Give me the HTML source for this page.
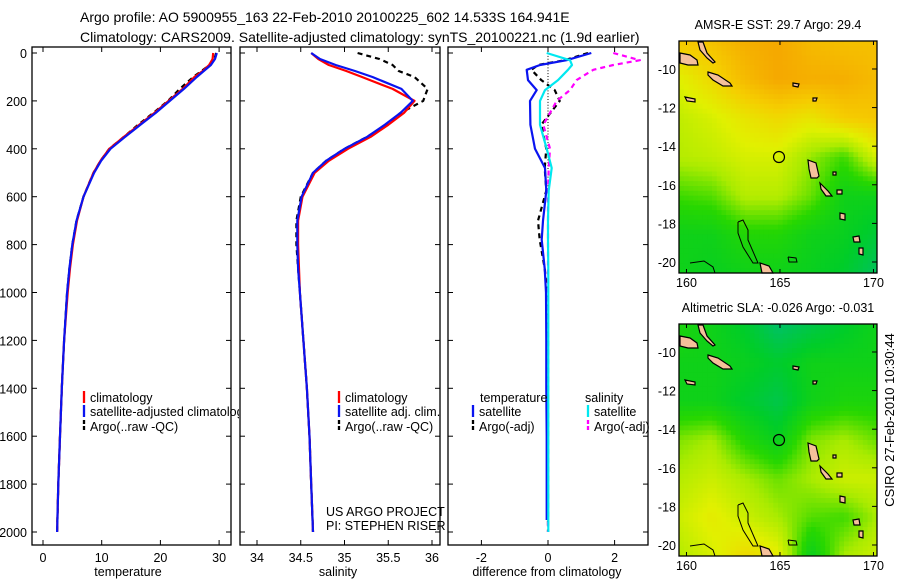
<!DOCTYPE html>
<html><head><meta charset="utf-8"><style>
html,body{margin:0;padding:0;background:#fff;}
body{width:900px;height:580px;overflow:hidden;font-family:"Liberation Sans",sans-serif;}
svg text{font-family:"Liberation Sans",sans-serif;fill:#000;}
</style></head><body>
<svg id="chart" width="900" height="580" viewBox="0 0 900 580" xmlns="http://www.w3.org/2000/svg">
<text x="80" y="22" font-size="14">Argo profile: AO 5900955_163 22-Feb-2010 20100225_602 14.533S 164.941E</text>
<text x="80" y="42" font-size="14">Climatology: CARS2009. Satellite-adjusted climatology: synTS_20100221.nc (1.9d earlier)</text>
<defs>
<clipPath id="c1"><rect x="32" y="47" width="199" height="498"/></clipPath>
<clipPath id="c2"><rect x="240" y="47" width="200" height="498"/></clipPath>
<clipPath id="c3"><rect x="448" y="47" width="200" height="498"/></clipPath>
<clipPath id="cl1"><rect x="32" y="380" width="207" height="60"/></clipPath>
</defs>
<g id="g"></g>
<text transform="translate(894,420) rotate(-90)" text-anchor="middle" font-size="13">CSIRO 27-Feb-2010 10:30:44</text>
</svg>
<script>
// ---- profile data ----
const depths = [0,25,50,75,100,150,200,250,300,350,400,450,500,600,700,800,900,1000,1200,1400,1600,1800,2000];
const tempClim = [29.0,28.9,28.3,27.2,25.8,23.8,21.4,19.0,16.4,13.8,11.3,9.8,8.6,6.9,5.8,5.1,4.6,4.2,3.6,3.2,2.9,2.6,2.4];
const tempSat  = [29.6,29.3,28.6,27.4,26.2,24.0,21.6,19.2,16.6,14.0,11.5,9.9,8.7,6.9,5.7,5.0,4.5,4.1,3.6,3.2,2.9,2.6,2.4];
const tempArgo = [29.5,29.2,28.4,27.0,25.6,23.3,21.3,18.8,16.2,13.8,11.3,9.8,8.6,6.9,5.7,5.0,4.5,4.1,3.6,3.2,2.9,2.6,2.4];
const salClim = [34.62,34.70,34.82,35.02,35.20,35.55,35.80,35.68,35.50,35.30,35.04,34.82,34.66,34.52,34.47,34.47,34.48,34.49,34.53,34.57,34.60,34.62,34.64];
const salSat  = [34.62,34.72,34.90,35.12,35.32,35.65,35.78,35.64,35.46,35.26,35.00,34.79,34.64,34.51,34.46,34.46,34.47,34.49,34.53,34.57,34.60,34.62,34.64];
const salArgo = [35.15,35.40,35.55,35.62,35.80,35.95,35.90,35.64,35.48,35.26,35.00,34.79,34.64,34.50,34.45,34.45,34.47,34.49,34.53,34.57,34.60,34.62,34.64];
const dDepths = [0,30,50,70,113,155,200,300,400,480,575,700,780,900,1000,1200,1400,1600,1800,1950,2000];
const dTempSat  = [1.3,0.56,-0.24,-0.64,-0.6,-0.34,-0.54,-0.53,-0.39,-0.09,-0.05,-0.15,-0.19,-0.1,-0.06,-0.05,-0.05,-0.04,-0.04,-0.04,null];
const dSalSat   = [-0.04,0.66,0.72,0.6,0.3,-0.09,-0.24,-0.24,-0.04,0.11,0.02,0.0,0.0,0.01,0.01,0.01,0.01,0.01,0.01,0.01,0.01];
const dTempArgo = [1.2,0.5,-0.3,-0.5,-0.2,0.2,0.35,-0.2,-0.05,-0.1,-0.05,-0.3,-0.25,-0.1,-0.02,0.0,0.0,0.0,0.0,0.0,0.0];
const dSalArgo  = [1.96,2.76,1.96,1.36,0.86,0.66,0.26,-0.14,0.06,0.02,0.0,0.0,0.0,0.0,0.0,0.0,0.0,0.0,0.0,0.0,0.0];
const depthTicks = [0,200,400,600,800,1000,1200,1400,1600,1800,2000];
const tempTicks = [0,10,20,30];
const salTicks = [34,34.5,35,35.5,36];
const salTickLabels = ["34","34.5","35","35.5","36"];
const diffTicks = [-2,0,2];
const latTicks = [-10,-12,-14,-16,-18,-20];
const lonTicks = [160,165,170];
// map coarse fields (rows north->south, cols west->east), colormap index 0..1
const sstField = [
 [0.74,0.76,0.82,0.84,0.78,0.76,0.76],
 [0.60,0.68,0.78,0.84,0.82,0.82,0.78],
 [0.54,0.58,0.64,0.68,0.64,0.72,0.74],
 [0.52,0.54,0.58,0.58,0.48,0.40,0.58],
 [0.40,0.42,0.52,0.52,0.44,0.30,0.30],
 [0.30,0.30,0.36,0.36,0.30,0.28,0.22],
 [0.30,0.28,0.30,0.30,0.28,0.24,0.14]];
const slaField = [
 [0.34,0.30,0.24,0.12,0.18,0.24,0.30],
 [0.30,0.30,0.28,0.24,0.30,0.30,0.30],
 [0.30,0.30,0.24,0.18,0.30,0.34,0.34],
 [0.46,0.50,0.36,0.28,0.46,0.50,0.44],
 [0.52,0.56,0.50,0.44,0.50,0.56,0.56],
 [0.56,0.62,0.56,0.50,0.42,0.40,0.50],
 [0.52,0.58,0.68,0.62,0.28,0.50,0.56]];

const NS="http://www.w3.org/2000/svg";
const G=document.getElementById('g');
function el(t,a,p){const e=document.createElementNS(NS,t);for(const k in a)e.setAttribute(k,a[k]);(p||G).appendChild(e);return e;}
const yD=d=>53+d*0.2395;
const xT=v=>43+v*5.87;
const xS=v=>257+(v-34)*87.5;
const xDf=v=>548+v*33.3;

function frame(x0,x1,name){
  const r=el('rect',{x:x0,y:47,width:x1-x0,height:498,fill:'none',stroke:'#000','stroke-width':1.3});
  
  
  depthTicks.forEach(d=>{el('line',{x1:x0,x2:x0+5,y1:yD(d),y2:yD(d),stroke:'#000'});el('line',{x1:x1-5,x2:x1,y1:yD(d),y2:yD(d),stroke:'#000'});});
}
function xticks(ticks,labels,fx,name){
  ticks.forEach((t,i)=>{const x=fx(t);el('line',{x1:x,x2:x,y1:47,y2:52,stroke:'#000'});el('line',{x1:x,x2:x,y1:540,y2:545,stroke:'#000'});
    const tx=el('text',{x:x,y:562,'font-size':12.5,'text-anchor':'middle'});tx.textContent=labels[i];
    
    });
}
function line(xs,ds,fx,color,clip,name,dash){
  let pts=[];xs.forEach((v,i)=>{if(v!==null)pts.push(fx(v).toFixed(1)+','+yD(ds[i]).toFixed(1));});
  const a={points:pts.join(' '),fill:'none',stroke:color,'stroke-width':2.2,'clip-path':'url(#'+clip+')','stroke-linejoin':'round'};
  if(dash)a['stroke-dasharray']=dash;
  const p=el('polyline',a);
  
  
}
function label(x,y,t,name,size,anchor){const e=el('text',{x:x,y:y,'font-size':size||12.5,'text-anchor':anchor||'start'});e.textContent=t;
  
  return e;}
function legItem(x,y,color,t,name,clip,dash){
  const l=el('line',{x1:x,x2:x,y1:y-11,y2:y+1,stroke:color,'stroke-width':2.3});
  if(dash)l.setAttribute('stroke-dasharray','4,2');
  const e=label(x+6,y,t,name);if(clip)e.setAttribute('clip-path','url(#'+clip+')');
}

// panel 1
frame(32,231,'temperature-panel');
depthTicks.forEach(d=>label(27,yD(d)+5,String(d),'depth-tick-label',12.5,'end'));
xticks(tempTicks,tempTicks.map(String),xT,'temperature');
line(tempArgo,depths,xT,'#000','c1','temperature-argo-line','5,4');
line(tempClim,depths,xT,'#f00','c1','temperature-climatology-line');
line(tempSat,depths,xT,'#0a14f0','c1','temperature-satellite-line');
label(128,576,'temperature','x-axis-title-temperature',12.5,'middle');
legItem(84,402,'#f00','climatology','legend-climatology');
legItem(84,416,'#0a14f0','satellite-adjusted climatology','legend-satellite-adjusted','cl1');
legItem(84,431,'#000','Argo(..raw -QC)','legend-argo','',1);

// panel 2
frame(240,440,'salinity-panel');
xticks(salTicks,salTickLabels,xS,'salinity');
line(salArgo,depths,xS,'#000','c2','salinity-argo-line','5,4');
line(salClim,depths,xS,'#f00','c2','salinity-climatology-line');
line(salSat,depths,xS,'#0a14f0','c2','salinity-satellite-line');
label(338,576,'salinity','x-axis-title-salinity',12.5,'middle');
legItem(339,402,'#f00','climatology','legend-sal-climatology');
legItem(339,416,'#0a14f0','satellite adj. clim.','legend-sal-satellite');
legItem(339,431,'#000','Argo(..raw -QC)','legend-sal-argo','',1);
label(326,516,'US ARGO PROJECT','project-credit',12.5);
label(326,530,'PI: STEPHEN RISER','pi-credit',12.5);

// panel 3
frame(448,648,'difference-panel');
xticks(diffTicks,diffTicks.map(String),xDf,'difference');
for(let d=0;d<=2000;d+=12){el('line',{x1:548,x2:548,y1:yD(d),y2:yD(d)+1,stroke:'#000','stroke-width':1});}
line(dTempArgo,dDepths,xDf,'#000','c3','diff-temperature-argo-line','5,4');
line(dSalArgo,dDepths,xDf,'#ff00ff','c3','diff-salinity-argo-line','5,4');
line(dTempSat,dDepths,xDf,'#0a14f0','c3','diff-temperature-satellite-line');
line(dSalSat,dDepths,xDf,'#00e8f0','c3','diff-salinity-satellite-line');
label(547,576,'difference from climatology','x-axis-title-difference',12.5,'middle');
label(480,402,'temperature','legend-header-temperature');
label(585,402,'salinity','legend-header-salinity');
legItem(473,416,'#0a14f0','satellite','legend-diff-temp-satellite');
legItem(473,431,'#000','Argo(-adj)','legend-diff-temp-argo','',1);
legItem(588,416,'#00e8f0','satellite','legend-diff-sal-satellite');
legItem(588,431,'#ff00ff','Argo(-adj)','legend-diff-sal-argo','',1);

// maps
const cmapStops=[[0,[0,180,160]],[0.25,[0,205,40]],[0.38,[40,215,0]],[0.5,[170,235,0]],[0.6,[225,240,0]],[0.72,[245,205,0]],[0.85,[245,165,0]],[1,[230,110,0]]];
function cmap(v){for(let i=1;i<cmapStops.length;i++){if(v<=cmapStops[i][0]){const a=cmapStops[i-1],b=cmapStops[i];const t=(v-a[0])/(b[0]-a[0]);return 'rgb('+a[1].map((c,k)=>Math.round(c+(b[1][k]-c)*t)).join(',')+')';}}return 'rgb(230,110,0)';}
function sample(F,u,v){const R=F.length-1,C=F[0].length-1;const x=u*C,y=v*R;const i=Math.min(Math.floor(y),R-1),j=Math.min(Math.floor(x),C-1);const fy=y-i,fx=x-j;
 return F[i][j]*(1-fx)*(1-fy)+F[i][j+1]*fx*(1-fy)+F[i+1][j]*(1-fx)*fy+F[i+1][j+1]*fx*fy;}
const islands=[[[1,12],[11,14],[18,19],[19,24],[9,24],[1,22]],[[19,1],[24,1],[28,12],[36,21],[34,22],[28,17],[21,9]],[[29,31],[39,34],[51,42],[53,45],[44,45],[34,39],[29,34]],[[6,56],[16,58],[16,61],[8,60]],[[129,119],[137,122],[140,135],[138,137],[132,137],[130,128]],[[141,142],[149,150],[153,155],[147,155],[142,148]],[[154,131],[157,131],[157,134],[154,134]],[[158,149],[163,149],[163,153],[158,153]],[[161,172],[166,173],[166,179],[161,178]],[[174,196],[180,195],[181,201],[175,201]],[[180,207],[184,207],[184,214],[180,213]],[[81,222],[90,225],[94,232],[83,232]],[[114,42],[120,43],[119,46],[114,45]],[[134,57],[138,57],[137,60],[134,60]]];
const outlines=[[[59,181],[64,179],[69,189],[69,199],[79,222],[74,222],[64,206],[59,192],[59,181]],[[109,216],[117,217],[118,221],[110,221],[109,216]],[[11,222],[25,220],[34,226],[36,232]]];
function drawMap(y0,F,title,name){
 const x0=679,W=198,H=232;
 const g=el('g',{});
 
 
 const cw=W/42,ch=H/48;
 for(let r=0;r<48;r++)for(let c=0;c<42;c++){el('rect',{x:(x0+c*cw).toFixed(2),y:(y0+r*ch).toFixed(2),width:(cw+0.5).toFixed(2),height:(ch+0.5).toFixed(2),fill:cmap(sample(F,(c+0.5)/42,(r+0.5)/48))},g);}
 islands.forEach(p=>el('polygon',{points:p.map(q=>(x0+q[0])+','+(y0+q[1])).join(' '),fill:'#f5c09a',stroke:'#000','stroke-width':1.2},g));
 outlines.forEach(p=>el('polyline',{points:p.map(q=>(x0+q[0])+','+(y0+q[1])).join(' '),fill:'none',stroke:'#000','stroke-width':1},g));
 const c=el('circle',{cx:x0+100,cy:y0+116,r:5.5,fill:'none',stroke:'#000','stroke-width':1.2},g);
 
 
 el('rect',{x:x0,y:y0,width:W,height:H,fill:'none',stroke:'#000','stroke-width':1.3});
 const lat0=-8.55,ppd=19.3,lon0=159.6,ppl=18.7;
 latTicks.forEach(t=>{const y=y0+(lat0-t)*ppd;el('line',{x1:x0+W-5,x2:x0+W,y1:y,y2:y,stroke:'#000'});label(676,y+5,String(t),'latitude-tick-label',12.5,'end');});
 lonTicks.forEach(t=>{const x=x0+(t-lon0)*ppl;el('line',{x1:x,x2:x,y1:y0,y2:y0+4,stroke:'#000'});el('line',{x1:x,x2:x,y1:y0+H-4,y2:y0+H,stroke:'#000'});label(x,y0+H+14,String(t),'longitude-tick-label',12.5,'middle');});
 label(x0+W/2,y0-12,title,name+'-title',12.5,'middle');
}
drawMap(41,sstField,'AMSR-E SST: 29.7 Argo: 29.4','sst-map');
drawMap(324,slaField,'Altimetric SLA: -0.026 Argo: -0.031','sla-map');
</script>
</body></html>
